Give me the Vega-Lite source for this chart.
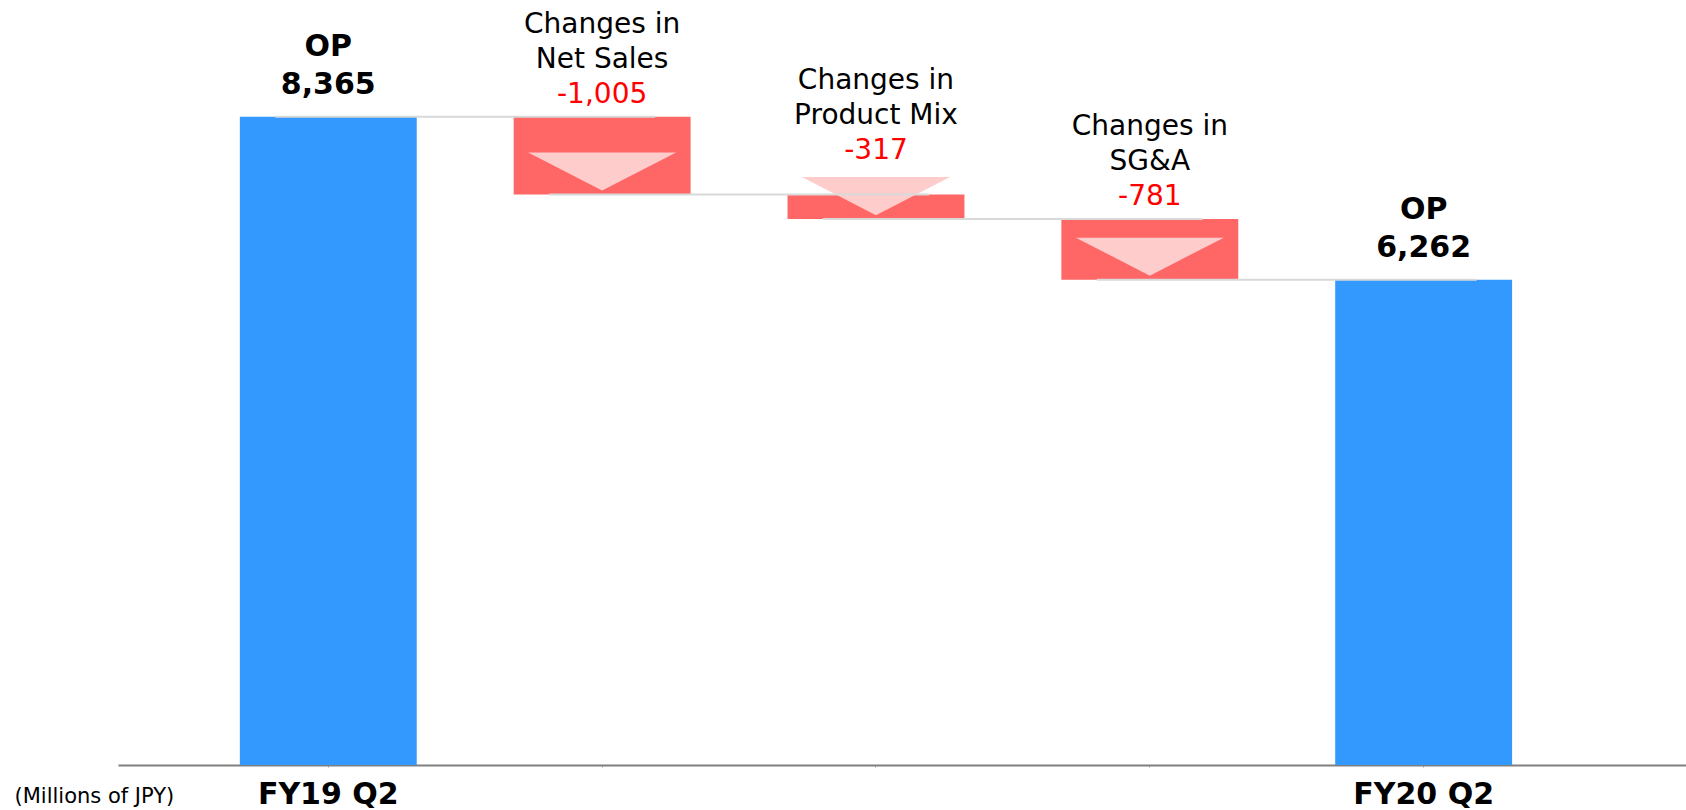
{
  "$schema": "https://vega.github.io/schema/vega-lite/v6.json",
  "width": 1568,
  "height": 765,
  "padding": {"left": 118, "top": 0, "right": 0, "bottom": 45},
  "autosize": {"type": "none"},
  "background": "white",
  "config": {"view": {"stroke": null}, "font": "DejaVu Sans"},
  "datasets": {
    "steps": [
      {"cat": "FY19 Q2", "kind": "total", "title": "OP", "amount": 8365, "label": "8,365", "top": 8365, "bottom": 0},
      {"cat": "Net Sales", "kind": "change", "title": "Changes in\nNet Sales", "amount": -1005, "label": "-1,005", "top": 8365, "bottom": 7360},
      {"cat": "Product Mix", "kind": "change", "title": "Changes in\nProduct Mix", "amount": -317, "label": "-317", "top": 7360, "bottom": 7043},
      {"cat": "SG&A", "kind": "change", "title": "Changes in\nSG&A", "amount": -781, "label": "-781", "top": 7043, "bottom": 6262},
      {"cat": "FY20 Q2", "kind": "total", "title": "OP", "amount": 6262, "label": "6,262", "top": 6262, "bottom": 0}
    ],
    "links": [
      {"from": "FY19 Q2", "to": "Net Sales", "level": 8365},
      {"from": "Net Sales", "to": "Product Mix", "level": 7360},
      {"from": "Product Mix", "to": "SG&A", "level": 7043},
      {"from": "SG&A", "to": "FY20 Q2", "level": 6262}
    ]
  },
  "data": {"name": "steps"},
  "encoding": {
    "x": {
      "field": "cat",
      "type": "nominal",
      "title": "(Millions of JPY)",
      "scale": {
        "domain": ["FY19 Q2", "Net Sales", "Product Mix", "SG&A", "FY20 Q2"],
        "paddingInner": 0.354,
        "paddingOuter": 0.54,
        "align": 0.412
      },
      "axis": {
        "labelExpr": "datum.value == 'FY19 Q2' || datum.value == 'FY20 Q2' ? datum.value : ''",
        "labelAngle": 0,
        "labelFontSize": 30,
        "labelFontWeight": "bold",
        "labelColor": "#000000",
        "labelPadding": 12,
        "labelOverlap": false,
        "domainColor": "#808080",
        "domainWidth": 2,
        "tickColor": "#a0a0a0",
        "tickSize": 2,
        "tickWidth": 1,
        "grid": false,
        "titleX": -104,
        "titleY": 37,
        "titleAlign": "left",
        "titleBaseline": "alphabetic",
        "titleFontSize": 21,
        "titleFontWeight": "normal",
        "titleColor": "#000000"
      }
    },
    "y": {
      "field": "top",
      "type": "quantitative",
      "scale": {"domain": [0, 9870], "nice": false},
      "axis": null
    }
  },
  "layer": [
    {
      "mark": {"type": "bar"},
      "encoding": {
        "y2": {"field": "bottom"},
        "color": {
          "field": "kind",
          "type": "nominal",
          "scale": {"domain": ["total", "change"], "range": ["#3399FF", "#FF6666"]},
          "legend": null
        }
      }
    },
    {
      "transform": [{"filter": "datum.kind == 'change'"}],
      "mark": {
        "type": "point",
        "shape": "M-1,-0.257L1,-0.257L0,0.257Z",
        "size": 21904,
        "filled": true,
        "color": "#FFCCCC",
        "opacity": 1,
        "strokeWidth": 0,
        "yOffset": -23
      },
      "encoding": {
        "y": {"field": "bottom", "type": "quantitative"}
      }
    },
    {
      "data": {"name": "links"},
      "mark": {"type": "rule", "color": "#D9D9D9", "strokeWidth": 2},
      "encoding": {
        "x": {"field": "from", "type": "nominal", "bandPosition": 0.2, "title": "(Millions of JPY)"},
        "x2": {"field": "to", "bandPosition": 0.8},
        "y": {"field": "level", "type": "quantitative"}
      }
    },
    {
      "transform": [{"filter": "datum.kind == 'total'"}],
      "mark": {"type": "text", "fontSize": 30, "fontWeight": "bold", "color": "#000000", "baseline": "alphabetic", "dy": -61},
      "encoding": {"text": {"field": "title"}}
    },
    {
      "transform": [{"filter": "datum.kind == 'total'"}],
      "mark": {"type": "text", "fontSize": 30, "fontWeight": "bold", "color": "#000000", "baseline": "alphabetic", "dy": -23},
      "encoding": {"text": {"field": "label"}}
    },
    {
      "transform": [{"filter": "datum.kind == 'change'"}],
      "mark": {
        "type": "text",
        "fontSize": 28,
        "color": "#000000",
        "baseline": "alphabetic",
        "lineBreak": "\n",
        "lineHeight": 35,
        "dy": {"expr": "min(0, scale('y', datum.bottom) - 46 - scale('y', datum.top)) - 84"}
      },
      "encoding": {"text": {"field": "title"}}
    },
    {
      "transform": [{"filter": "datum.kind == 'change'"}],
      "mark": {
        "type": "text",
        "fontSize": 28,
        "color": "#FF0000",
        "baseline": "alphabetic",
        "dy": {"expr": "min(0, scale('y', datum.bottom) - 46 - scale('y', datum.top)) - 14"}
      },
      "encoding": {"text": {"field": "label"}}
    }
  ]
}
